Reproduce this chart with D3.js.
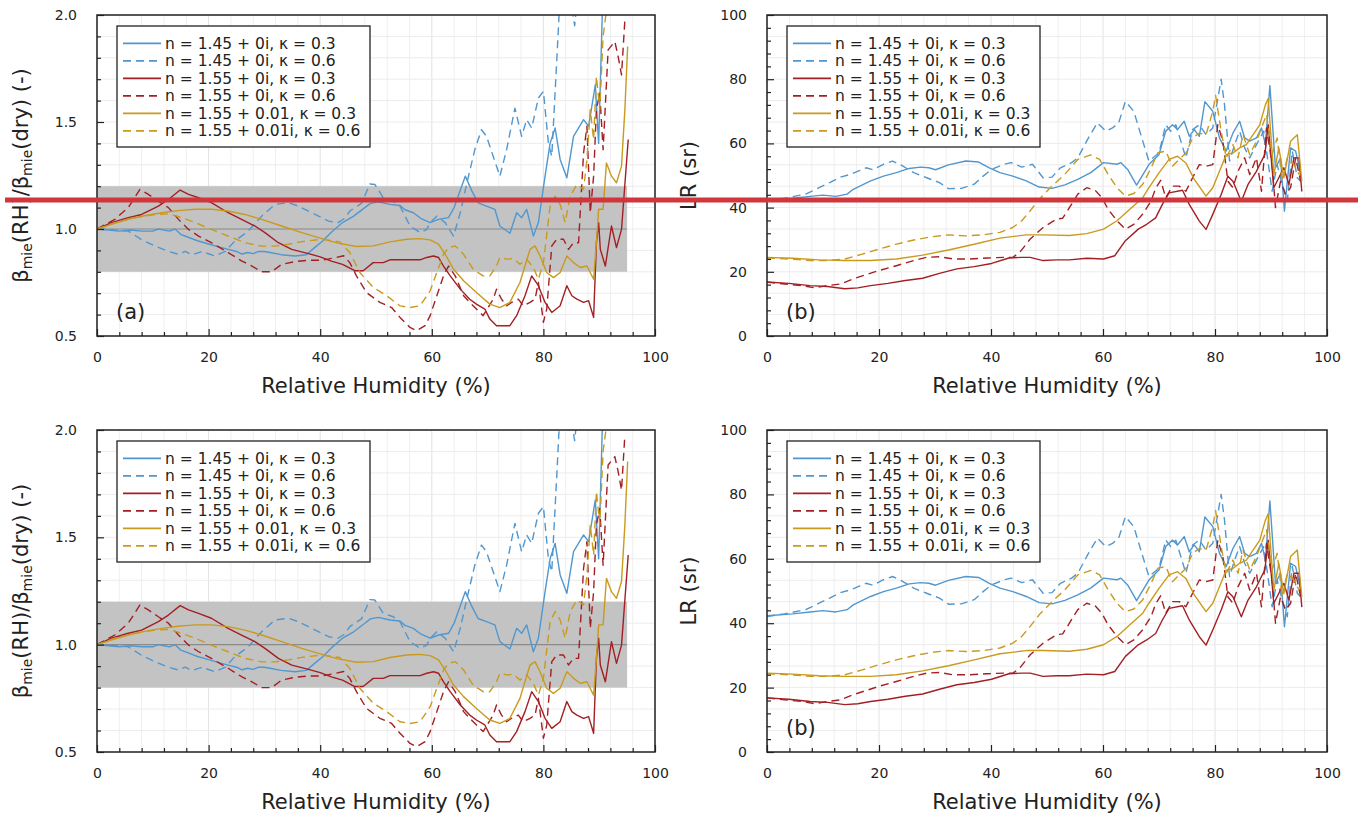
<!DOCTYPE html>
<html>
<head>
<meta charset="utf-8">
<script src="https://cdn.jsdelivr.net/npm/d3@7"></script>
<style>
  body { margin: 0; background: #fff; }
  svg { display: block; }
  text { font-family: "DejaVu Sans", sans-serif; }
</style>
</head>
<body>
<svg id="chart" width="1358" height="819"></svg>
<script>
// legend text, one per series (left panel has the typo "0.01," on row 5)
const legendBeta = ["n = 1.45 + 0i, κ = 0.3", "n = 1.45 + 0i, κ = 0.6", "n = 1.55 + 0i, κ = 0.3",
  "n = 1.55 + 0i, κ = 0.6", "n = 1.55 + 0.01, κ = 0.3", "n = 1.55 + 0.01i, κ = 0.6"];
const legendLR = ["n = 1.45 + 0i, κ = 0.3", "n = 1.45 + 0i, κ = 0.6", "n = 1.55 + 0i, κ = 0.3",
  "n = 1.55 + 0i, κ = 0.6", "n = 1.55 + 0.01i, κ = 0.3", "n = 1.55 + 0.01i, κ = 0.6"];

const xTicksMajor = [0, 20, 40, 60, 80, 100];
const betaTicksMajor = [0.5, 1.0, 1.5, 2.0];
const lrTicksMajor = [0, 20, 40, 60, 80, 100];

// shaded +-20% band on the beta panels
const bandLow = 0.8, bandHigh = 1.2, bandEnd = 95;

// [RH %, beta(RH)/beta(dry)]
const betaBlue03 = [[0,1.0],[2,0.995],[4,0.99],[6,0.995],[8,0.99],[10,0.99],[11,1.0],[12,0.995],[13,0.99],[14,1.0],[15,0.975],[16,0.965],[18,0.945],[20,0.93],[22,0.915],[23.5,0.905],[25,0.895],[26,0.883],[27,0.89],[28,0.885],[29,0.895],[30,0.895],[31,0.89],[33,0.88],[35.5,0.874],[37.5,0.88],[39,0.913],[40.5,0.945],[42,0.985],[44,1.03],[46,1.06],[48,1.1],[49,1.12],[50.4,1.127],[52.5,1.115],[54.3,1.11],[55.2,1.09],[56.7,1.076],[58,1.05],[59.7,1.03],[61.2,1.045],[63,1.053],[64,1.1],[66,1.247],[67.2,1.177],[68.3,1.122],[69.8,1.107],[71.3,1.092],[72.2,1.014],[74,0.98],[75.2,1.076],[76.1,1.053],[77,1.092],[78.2,0.967],[79.1,1.03],[80.3,1.247],[81.2,1.4],[82.1,1.472],[83,1.325],[84.2,1.239],[85.4,1.433],[87.2,1.511],[88.1,1.48],[89.3,1.674],[89.9,1.4],[90.6,2.05],[91,2.3]];
const betaBlue06 = [[0,1.0],[3,0.995],[5.6,0.99],[8,0.95],[10.4,0.92],[12.8,0.895],[14.6,0.882],[15.8,0.895],[17,0.879],[18.8,0.895],[21.1,0.874],[23,0.895],[24.7,0.944],[27.1,0.99],[29.5,1.06],[31.9,1.115],[34.3,1.123],[36.1,1.107],[37.9,1.084],[41.5,1.037],[43.2,1.03],[44.4,1.05],[45.3,1.084],[47.4,1.12],[48.9,1.21],[49.8,1.208],[51.3,1.146],[53.1,1.13],[54.3,1.107],[56.1,1.014],[57.9,0.983],[59.1,0.998],[59.7,1.03],[60.9,1.06],[62.4,1.03],[63.9,0.967],[65.1,1.076],[66.3,1.216],[67.7,1.37],[68.9,1.464],[69.8,1.433],[71,1.34],[72.2,1.247],[73.4,1.37],[74.9,1.565],[76.1,1.433],[77,1.511],[77.9,1.472],[79.1,1.612],[80,1.643],[80.9,1.4],[81.5,1.34],[82.4,1.79],[83,2.1],[84,2.3],[85,2.05],[85.6,1.95],[86.2,2.1],[87,2.4]];
const betaRed03 = [[0,1.0],[2.6,1.03],[5.6,1.053],[8,1.068],[11,1.107],[12.8,1.138],[14.9,1.182],[16.4,1.162],[18.2,1.146],[20.5,1.123],[23.5,1.076],[25.9,1.045],[28.3,1.014],[30.1,0.983],[32.5,0.936],[34.9,0.905],[37.9,0.885],[40,0.87],[42,0.85],[44,0.835],[46.2,0.805],[47.7,0.805],[49.5,0.843],[51.3,0.843],[52.5,0.856],[55.5,0.856],[57.9,0.856],[59.1,0.867],[60.3,0.874],[61.2,0.867],[62.1,0.827],[63.3,0.781],[65.1,0.719],[66.8,0.672],[68,0.649],[69.5,0.626],[70.4,0.579],[71.6,0.548],[74,0.548],[75.2,0.595],[76.7,0.688],[77.9,0.781],[79.1,0.735],[80.3,0.657],[81.5,0.61],[83,0.641],[84.2,0.735],[85.1,0.688],[86,0.672],[87.2,0.657],[88.1,0.665],[89,0.587],[89.5,0.936],[89.9,1.03],[90.2,0.905],[91.1,0.827],[92.2,1.014],[93.1,0.913],[94,0.998],[95.2,1.418]];
const betaRed06 = [[0,1.0],[3.2,1.045],[5.6,1.1],[7.7,1.185],[9.2,1.162],[11,1.13],[12.8,1.1],[14.6,1.045],[16.4,0.998],[18.2,0.967],[20.5,0.936],[23.5,0.89],[25.9,0.851],[27.7,0.828],[29.5,0.8],[31.3,0.8],[33.1,0.835],[35.5,0.848],[37.9,0.854],[40.3,0.854],[42.7,0.866],[44.2,0.875],[45.3,0.843],[46.5,0.781],[48.3,0.703],[50.7,0.657],[52.8,0.633],[54.3,0.587],[56.1,0.54],[57.3,0.525],[58.8,0.548],[59.7,0.595],[60.9,0.688],[62.1,0.781],[63,0.827],[64.2,0.781],[65.7,0.688],[66.8,0.657],[68,0.626],[69.2,0.595],[71,0.672],[71.6,0.719],[72.5,0.672],[73.4,0.641],[74.3,0.657],[75.5,0.672],[76.4,0.641],[77.6,0.657],[78.5,0.672],[79.1,0.75],[80,0.564],[80.6,0.626],[81.5,0.921],[82.4,0.952],[83.6,0.952],[84.5,0.905],[85.4,0.936],[86.3,0.936],[87.2,1.356],[87.8,1.48],[88.4,1.076],[89,1.247],[89.5,1.558],[90.1,1.635],[90.7,1.37],[91.6,1.837],[92.8,1.876],[93.4,1.806],[94,1.72],[94.6,1.976]];
const betaGold03 = [[0,1.0],[3,1.025],[5.6,1.045],[8.5,1.062],[11.6,1.076],[14.5,1.086],[17.6,1.092],[20.5,1.092],[23.5,1.084],[26.5,1.068],[29.5,1.045],[33.1,1.014],[36.7,0.983],[40.3,0.955],[43,0.935],[46.5,0.918],[49.5,0.921],[52.5,0.94],[55.5,0.952],[57.9,0.955],[59.7,0.949],[61.2,0.929],[62.4,0.882],[63.9,0.812],[65.7,0.758],[68,0.703],[70.4,0.649],[72.2,0.633],[74,0.657],[75.8,0.75],[77.6,0.905],[78.5,0.921],[79.4,0.874],[80.6,0.797],[81.8,0.773],[83,0.797],[84.2,0.874],[85.4,0.843],[86.6,0.82],[87.8,0.827],[89,0.765],[89.5,0.936],[89.9,1.092],[90.7,1.092],[91.3,1.309],[92.2,1.247],[93.1,1.216],[94,1.294],[94.6,1.558],[95.1,1.853]];
const betaGold06 = [[0,1.0],[3.2,1.03],[6.8,1.053],[10.4,1.068],[12.8,1.071],[15.2,1.053],[17.6,1.03],[20.5,0.998],[23.5,0.967],[26.5,0.936],[29.5,0.92],[31.9,0.92],[34.3,0.929],[36.7,0.941],[40.3,0.952],[43.5,0.94],[45.3,0.89],[47.1,0.797],[49.5,0.727],[51.9,0.688],[54.3,0.641],[56.1,0.633],[57.9,0.641],[59.7,0.711],[60.9,0.797],[62.1,0.882],[63,0.913],[64.2,0.921],[65.7,0.882],[67.4,0.812],[69.2,0.781],[70.4,0.781],[71.6,0.827],[72.2,0.867],[73.4,0.859],[74.6,0.862],[75.8,0.835],[77,0.859],[78.2,0.82],[79.1,0.765],[80,0.843],[81.2,1.107],[82.1,1.154],[83,1.115],[83.9,1.03],[84.8,1.154],[86,1.208],[87.2,1.185],[87.8,1.325],[88.4,1.558],[89,1.418],[89.5,1.713],[90.1,1.558],[90.7,1.9],[91.3,2.02],[92,2.2]];

// [RH %, lidar ratio sr]
const lrBlue03 = [[0,42.3],[4.6,42.9],[7.7,43.5],[10,43.9],[12.3,43.5],[14.3,44.2],[15.4,45.7],[18.5,48.3],[20.8,49.8],[23.1,50.9],[25.4,52.2],[27.4,52.6],[28.9,52.4],[30.1,51.8],[32.4,53.3],[35.5,54.5],[37.8,54.2],[39.7,52.4],[41.6,50.9],[43.9,49.8],[46.3,48.3],[48.6,46.4],[50.9,46],[53.2,47.1],[55.5,48.8],[57.8,50.9],[60.1,54],[62.5,53.5],[63.2,54],[64.4,51.9],[66,47],[68.2,53.4],[70,56.5],[71.2,63.8],[72.4,65.8],[73.3,64.3],[74.5,66.9],[75.4,62.2],[76.3,64.3],[77.2,62.2],[78.2,73],[79.6,70],[80.8,61.7],[82,57.6],[83.2,63.2],[84.4,66.9],[85.3,61.7],[86.2,60.7],[87.4,61.7],[88.3,64.8],[89,59.6],[89.8,78],[90.8,52.4],[91.7,55.5],[92.4,38.9],[93.5,58.6],[94.4,57.6],[95.2,51.3]];
const lrBlue06 = [[0,42.1],[3.1,42.9],[6.9,44.2],[9.3,46.2],[11.2,47.8],[13.1,49.5],[15,50.4],[16.6,51.6],[17.7,52.4],[18.9,51.8],[20.8,53.5],[22.4,54.5],[23.9,53.3],[26.2,50.9],[28.5,49.3],[30.8,47.8],[32.4,45.9],[34.7,46],[37,47.3],[38.6,49.8],[40.1,51.9],[42.4,53.5],[43.6,54],[45.5,52.6],[47.4,53.5],[49.3,49.3],[50.9,49.5],[52.4,52.4],[54.4,54],[55.5,55.5],[57.4,61.7],[59,66.4],[60.5,63.8],[61.7,64.8],[62.8,66.4],[64,73.1],[65.5,70],[67.1,60.7],[68.2,54.5],[70,57],[71.2,65.8],[72.1,63.8],[73,65.8],[73.9,60.7],[74.8,55.5],[76,64.3],[77.2,65.8],[78.4,62.7],[79.6,64.8],[81.1,80],[81.7,72],[82.6,54.5],[83.5,59.6],[84.4,63.8],[85.3,58.6],[86.2,55.5],[87.4,59.6],[88.7,63.8],[89.2,57.6],[90.2,45.1],[91.1,53.4],[92,47.2],[92.9,42],[93.8,57.6],[94.7,49.3],[95.3,48.2]];
const lrRed03 = [[0,16.8],[3.9,16.4],[7.7,15.7],[10.8,15.4],[13.9,14.7],[16.2,15],[18.5,15.7],[21.6,16.4],[24.7,17.3],[27.8,18],[30.8,19.5],[33.9,20.9],[37,21.6],[40.1,22.6],[43.2,24.3],[45.5,24.5],[47,24.5],[49.3,23.5],[51.7,23.7],[54,23.7],[57.1,24.2],[60.1,24],[62.1,25],[64,29.7],[66.3,33.3],[67.8,34.8],[69.4,36.8],[70.6,41],[71.8,44.6],[74.2,45.4],[75.4,41],[77.2,35.8],[78.4,33.2],[79.6,37.9],[81.1,44.1],[82.3,49.8],[83.2,48.2],[84.7,42],[85.9,47.2],[87.4,51.3],[88.3,54.5],[88.9,56.5],[89.5,65.8],[90.5,46.2],[91.4,49.3],[92.3,52.4],[93.2,47.2],[94.1,55.5],[95,55.5],[95.5,45]];
const lrRed06 = [[0,16.8],[3.1,16.2],[6.2,15.7],[8.5,15],[10.8,15.7],[13.1,16.2],[15.4,17.8],[17.7,19.1],[20,20.4],[23.1,21.9],[26.2,23.5],[28.5,24.5],[30.8,24.7],[33.2,24],[36.2,24],[39.3,24.3],[42.4,24.5],[43.9,24.5],[45.1,26],[47,30.2],[49.3,33.8],[51.7,36.4],[52.8,36.7],[54,40],[55.5,44.2],[57.1,46.2],[58.6,45.4],[59.8,43.1],[60.9,39.5],[62.5,35.9],[64,33.3],[65.5,34.8],[67.1,38],[68.6,42.1],[69.4,46],[70.3,48.5],[71.2,43.1],[72.4,46.7],[73.6,46.7],[74.8,45.1],[76,49.3],[77.2,53.4],[78.4,52.9],[79.6,53.4],[80.5,65.8],[81.4,60.7],[82.3,48.2],[83.2,46.2],[84.1,51.3],[85.3,55.5],[86.2,50.3],[87.4,55.5],[88.3,45.1],[89.2,64.8],[90.2,53.4],[90.8,40],[91.7,48.2],[92.6,44.1],[93.5,46.2],[94.4,55.5],[95.3,48.2]];
const lrGold03 = [[0,24.5],[4.6,24.2],[9.3,23.7],[13.9,23.5],[18.5,23.5],[23.1,24],[27.8,25.2],[32.4,26.8],[37,28.6],[41.6,30.5],[46.3,31.5],[49.3,31.5],[54,31.3],[57.1,31.9],[60.1,33.3],[62.5,35.9],[64.8,39.5],[67.1,43.1],[68.2,46.2],[70,50.8],[71.8,55],[73.3,56],[74.8,53.9],[76.3,48.8],[78.4,43.6],[79.6,46.2],[80.8,51.3],[82,56.5],[83.2,57],[84.4,58.6],[85.6,59.6],[86.8,62.7],[88,65.8],[89,72],[89.5,74],[90.5,50.3],[91.4,58.6],[92.3,49.3],[93.5,60.7],[94.7,62.7],[95.5,48.2]];
const lrGold06 = [[0,24.3],[4.6,23.9],[7.7,23.5],[10.8,23.5],[13.9,24],[17,25.5],[20,27.1],[23.1,28.6],[26.2,29.9],[29.3,30.9],[32.4,31.5],[35.5,31.2],[38.6,31.5],[41.6,32.3],[43.9,33.8],[45.5,35.9],[47,39],[48.6,42.6],[50.9,46.7],[53.2,50.4],[55.5,55],[57.8,56.4],[59.4,55],[60.9,50.4],[62.5,46.2],[64,43.6],[65.5,44.4],[67.1,47.3],[68.6,52.4],[69.8,57.1],[71.2,57.6],[72.4,52.9],[73.6,55],[74.8,57],[76,61.7],[77.2,63.2],[78.4,62.7],[79.6,70],[80.1,75],[81.1,63.8],[82,55.5],[83.2,59.6],[84.1,55.5],[85,62.7],[86.2,56.5],[87.4,60.7],[88.3,64.8],[89.2,69],[90.2,56.5],[91.1,61.7],[92,48.2],[92.9,55.5],[94.1,53.4],[95,50.3]];

const betaSeries = [betaBlue03, betaBlue06, betaRed03, betaRed06, betaGold03, betaGold06];
const lrSeries = [lrBlue03, lrBlue06, lrRed03, lrRed06, lrGold03, lrGold06];

const colors = ["#5197cf", "#5197cf", "#a31f24", "#a31f24", "#c99a1d", "#c99a1d"];
const dashes = [null, "8,5", null, "8,5", null, "8,5"];

const svg = d3.select("#chart");
svg.append("rect").attr("width", 1358).attr("height", 819).attr("fill", "#fff");

const panels = [
  { x0: 97, x1: 655, y0: 15, y1: 336, beta: true, tag: "(a)" },
  { x0: 767, x1: 1327, y0: 15, y1: 336, beta: false, tag: "(b)" },
  { x0: 97, x1: 655, y0: 430, y1: 752, beta: true, tag: null },
  { x0: 767, x1: 1327, y0: 430, y1: 752, beta: false, tag: "(b)" }
];

panels.forEach((p, pi) => {
  const x = d3.scaleLinear().domain([0, 100]).range([p.x0, p.x1]);
  const y = p.beta
    ? d3.scaleLinear().domain([0.5, 2.0]).range([p.y1, p.y0])
    : d3.scaleLinear().domain([0, 100]).range([p.y1, p.y0]);
  const g = svg.append("g");

  const clipId = "clip" + pi;
  svg.append("clipPath").attr("id", clipId)
    .append("rect").attr("x", p.x0).attr("y", p.y0)
    .attr("width", p.x1 - p.x0).attr("height", p.y1 - p.y0);

  // grid
  const xGrid = d3.range(0, 100.01, 4);
  const yGrid = p.beta ? d3.range(0, 16).map(i => 0.5 + i * 0.1) : d3.range(0, 16).map(i => i * 100 / 15);
  g.selectAll(".gx").data(xGrid).join("line")
    .attr("x1", d => x(d)).attr("x2", d => x(d)).attr("y1", p.y0).attr("y2", p.y1)
    .attr("stroke", d => d % 20 === 0 ? "#e2e2e2" : "#efefef").attr("stroke-width", 1);
  g.selectAll(".gy").data(yGrid).join("line")
    .attr("x1", p.x0).attr("x2", p.x1).attr("y1", d => y(d)).attr("y2", d => y(d))
    .attr("stroke", "#ececec").attr("stroke-width", 1);

  if (p.beta) {
    g.append("rect")
      .attr("x", x(0)).attr("width", x(bandEnd) - x(0))
      .attr("y", y(bandHigh)).attr("height", y(bandLow) - y(bandHigh))
      .attr("fill", "#c3c3c3");
    g.append("line")
      .attr("x1", x(0)).attr("x2", x(bandEnd)).attr("y1", y(1)).attr("y2", y(1))
      .attr("stroke", "#8a8a8a").attr("stroke-width", 1.2);
  }

  const series = p.beta ? betaSeries : lrSeries;
  const line = d3.line().x(d => x(d[0])).y(d => y(d[1]));
  const lg = g.append("g").attr("clip-path", `url(#${clipId})`);
  series.forEach((s, i) => {
    lg.append("path").datum(s)
      .attr("fill", "none")
      .attr("stroke", colors[i])
      .attr("stroke-width", 1.4)
      .attr("stroke-linejoin", "round")
      .attr("stroke-dasharray", dashes[i])
      .attr("d", line);
  });

  // axes, ticks pointing inward
  const xMinor = d3.range(0, 100.01, 4).filter(v => v % 20 !== 0);
  const yMinor = p.beta
    ? d3.range(0, 16).map(i => +(0.5 + i * 0.1).toFixed(2)).filter(v => !betaTicksMajor.includes(v))
    : d3.range(0, 100.01, 4).filter(v => v % 20 !== 0);
  const yMajor = p.beta ? betaTicksMajor : lrTicksMajor;

  const styleAxis = a => {
    a.select(".domain").remove();
    a.selectAll("line").attr("stroke", "#222").attr("stroke-width", 1.2);
    a.selectAll("text").attr("font-family", "DejaVu Sans, sans-serif").attr("font-size", 14).attr("fill", "#222");
  };
  g.append("g").attr("transform", `translate(0,${p.y1})`)
    .call(d3.axisBottom(x).tickValues(xMinor).tickSize(-4).tickFormat("")).call(styleAxis);
  g.append("g").attr("transform", `translate(0,${p.y1})`)
    .call(d3.axisBottom(x).tickValues(xTicksMajor).tickSize(-7).tickPadding(16).tickFormat(d3.format("d"))).call(styleAxis);
  g.append("g").attr("transform", `translate(${p.x0},0)`)
    .call(d3.axisLeft(y).tickValues(yMinor).tickSize(-4).tickFormat("")).call(styleAxis);
  g.append("g").attr("transform", `translate(${p.x0},0)`)
    .call(d3.axisLeft(y).tickValues(yMajor).tickSize(-7).tickPadding(20)
      .tickFormat(p.beta ? d3.format(".1f") : d3.format("d"))).call(styleAxis);

  g.append("rect")
    .attr("x", p.x0).attr("y", p.y0).attr("width", p.x1 - p.x0).attr("height", p.y1 - p.y0)
    .attr("fill", "none").attr("stroke", "#222").attr("stroke-width", 1.5);

  // legend
  const labels = p.beta ? legendBeta : legendLR;
  const lx = p.x0 + 20, ly = p.y0 + 11;
  const leg = g.append("g").attr("transform", `translate(${lx},${ly})`);
  leg.append("rect").attr("width", 253).attr("height", 121)
    .attr("fill", "#fff").attr("stroke", "#222").attr("stroke-width", 1.3);
  labels.forEach((t, i) => {
    const ry = 17.4 + i * 17.5;
    leg.append("line").attr("x1", 6).attr("x2", 44).attr("y1", ry).attr("y2", ry)
      .attr("stroke", colors[i]).attr("stroke-width", 1.6).attr("stroke-dasharray", dashes[i]);
    leg.append("text").attr("x", 48).attr("y", ry).attr("dy", "0.35em")
      .attr("font-size", 15.5).attr("fill", "#222").text(t);
  });

  if (p.tag) {
    g.append("text").attr("x", p.x0 + 19).attr("y", p.y1 - 24).attr("dy", "0.35em")
      .attr("font-size", 21).attr("fill", "#222").text(p.tag);
  }

  g.append("text").attr("x", (p.x0 + p.x1) / 2).attr("y", p.y1 + 57)
    .attr("text-anchor", "middle").attr("font-size", 21).attr("fill", "#222")
    .text("Relative Humidity (%)");

  const cy = (p.y0 + p.y1) / 2;
  if (p.beta) {
    const t = g.append("text").attr("transform", `translate(21,${cy}) rotate(-90)`)
      .attr("text-anchor", "middle").attr("dy", "0.35em").attr("font-size", 21).attr("fill", "#222");
    t.append("tspan").text("β");
    t.append("tspan").attr("font-size", 14).attr("dy", 4).text("mie");
    t.append("tspan").attr("dy", -4).text("(RH)/β");
    t.append("tspan").attr("font-size", 14).attr("dy", 4).text("mie");
    t.append("tspan").attr("dy", -4).text("(dry) (-)");
  } else {
    g.append("text").attr("transform", `translate(${p.x0 - 78},${cy}) rotate(-90)`)
      .attr("text-anchor", "middle").attr("dy", "0.35em").attr("font-size", 21).attr("fill", "#222")
      .text("LR (sr)");
  }
});

// red marker line drawn across the top row
svg.append("rect").attr("x", 5).attr("y", 197.5).attr("width", 1353).attr("height", 5).attr("fill", "#d0363b");
</script>
</body>
</html>
